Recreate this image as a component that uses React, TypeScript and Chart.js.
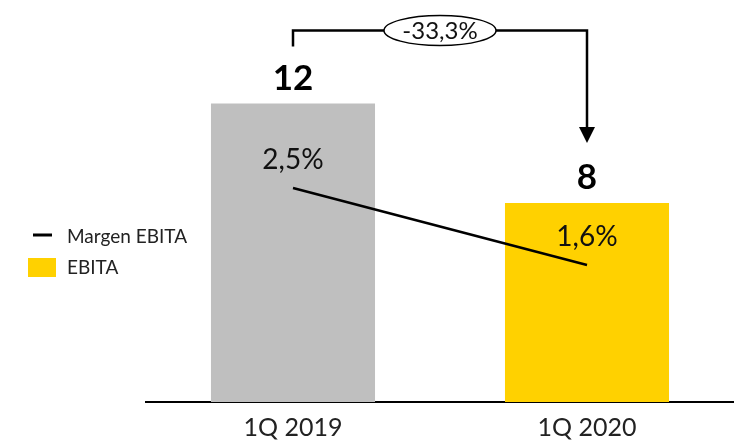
import React, { useEffect, useRef } from "react";
import { Chart, registerables } from "chart.js";
Chart.register(...registerables);

const categories = ["1Q 2019", "1Q 2020"];
const ebita = [12, 8];
const margin = [2.5, 1.6];
const ebitaLabels = ["12", "8"];
const marginLabels = ["2,5%", "1,6%"];
const changeLabel = "-33,3%";
const legendLabels = ["Margen EBITA", "EBITA"];
const barColors = ["#BFBFBF", "#FFD100"];
const FONT = "Lato, 'Open Sans', sans-serif";

const annotations = {
  id: "annotations",
  afterDraw(chart: any) {
    const ctx = chart.ctx;
    const barMeta = chart.getDatasetMeta(0);
    const lineMeta = chart.getDatasetMeta(1);
    ctx.save();
    ctx.textAlign = "center";
    ctx.textBaseline = "middle";
    // value labels
    ctx.fillStyle = "#000";
    ctx.font = `bold 35px ${FONT}`;
    barMeta.data.forEach((b: any, i: number) => ctx.fillText(ebitaLabels[i], b.x, b.y - 25));
    ctx.fillStyle = "#111";
    ctx.font = `28px ${FONT}`;
    lineMeta.data.forEach((p: any, i: number) => ctx.fillText(marginLabels[i], p.x, p.y - 28));

    // bracket + arrow
    const x1 = barMeta.data[0].x, x2 = barMeta.data[1].x;
    const top1 = barMeta.data[0].y, top2 = barMeta.data[1].y;
    const hy = top1 - 73;
    ctx.strokeStyle = "#000";
    ctx.fillStyle = "#000";
    ctx.lineWidth = 2.5;
    ctx.beginPath();
    ctx.moveTo(x1, top1 - 57);
    ctx.lineTo(x1, hy);
    ctx.lineTo(x2, hy);
    ctx.lineTo(x2, top2 - 74);
    ctx.stroke();
    ctx.beginPath();
    ctx.moveTo(x2 - 8, top2 - 76);
    ctx.lineTo(x2 + 8, top2 - 76);
    ctx.lineTo(x2, top2 - 60);
    ctx.closePath();
    ctx.fill();
    const cx = (x1 + x2) / 2;
    ctx.beginPath();
    ctx.ellipse(cx, hy, 56, 15, 0, 0, Math.PI * 2);
    ctx.fillStyle = "#fff";
    ctx.fill();
    ctx.lineWidth = 1.5;
    ctx.stroke();
    ctx.fillStyle = "#111";
    ctx.font = `24px ${FONT}`;
    ctx.fillText(changeLabel, cx, hy + 1);

    // legend
    ctx.strokeStyle = "#000";
    ctx.lineWidth = 3;
    ctx.beginPath();
    ctx.moveTo(33, 235);
    ctx.lineTo(52, 235);
    ctx.stroke();
    ctx.fillStyle = barColors[1];
    ctx.fillRect(28, 258, 28, 19);
    ctx.fillStyle = "#222";
    ctx.textAlign = "left";
    ctx.font = `19px ${FONT}`;
    ctx.fillText(legendLabels[0], 67, 237);
    ctx.fillText(legendLabels[1], 67, 268);
    ctx.restore();
  },
};

export default function App() {
  const ref = useRef<HTMLCanvasElement>(null);
  useEffect(() => {
    if (!ref.current) return;
    const chart = new Chart(ref.current, {
      type: "bar",
      data: {
        labels: categories,
        datasets: [
          {
            type: "bar",
            label: legendLabels[1],
            data: ebita,
            backgroundColor: barColors,
            barPercentage: 0.558,
            categoryPercentage: 1,
            yAxisID: "y",
            order: 1,
          } as any,
          {
            type: "line",
            label: legendLabels[0],
            data: margin,
            borderColor: "#000",
            borderWidth: 2.5,
            pointRadius: 0,
            yAxisID: "y2",
            order: 0,
          } as any,
        ],
      },
      options: {
        responsive: false,
        animation: false,
        layout: { padding: { left: 146, right: 0, top: 4, bottom: 0 } },
        plugins: { legend: { display: false }, tooltip: { enabled: false } },
        scales: {
          x: {
            offset: true,
            grid: { display: false, drawTicks: false, tickLength: 0 },
            border: { display: true, color: "#000", width: 2 },
            ticks: { font: { family: FONT, size: 25 }, color: "#222", padding: 11 },
            afterFit: (s: any) => { s.height = 40; },
          },
          y: { display: false, min: 0, max: 16 },
          y2: { display: false, min: 0, max: 4.65, position: "right" },
        },
      },
      plugins: [annotations],
    });
    return () => chart.destroy();
  }, []);
  return (
    <div style={{ position: "fixed", left: 0, top: 0, width: 734, height: 442, background: "#fff" }}>
      <canvas ref={ref} width={734} height={442} />
    </div>
  );
}
